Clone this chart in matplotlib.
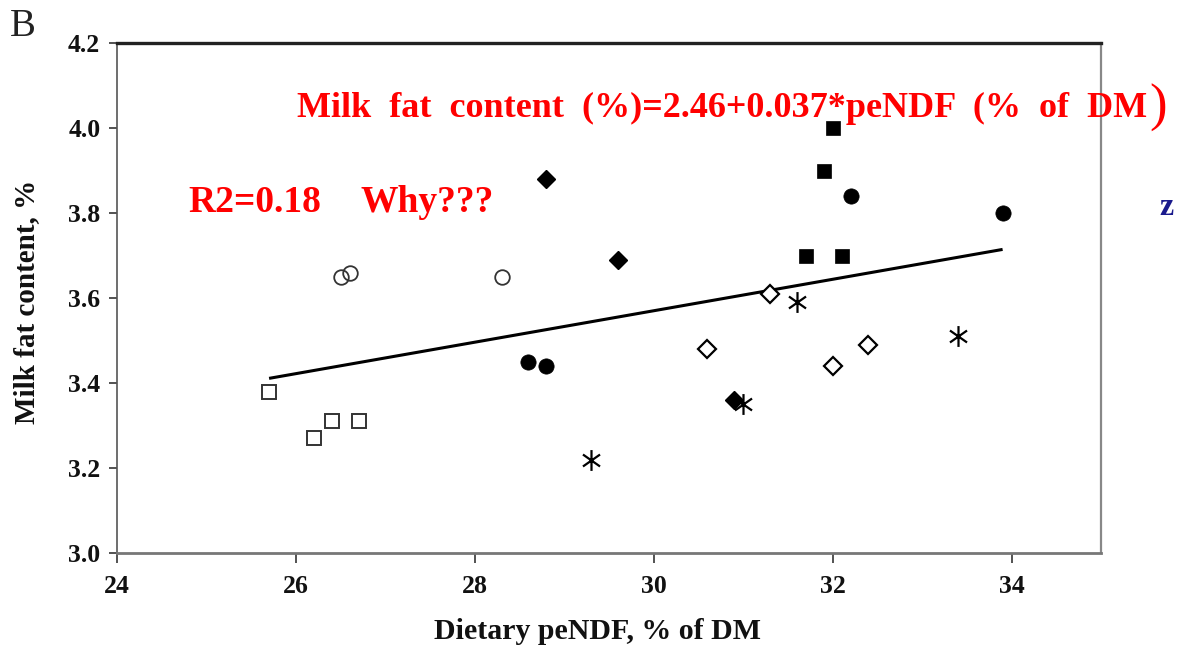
import numpy as np
import matplotlib
matplotlib.use("Agg")
import matplotlib.pyplot as plt
from matplotlib.path import Path

# ---- data: dietary peNDF (% of DM) vs milk fat content (%) ----
open_sq_x = [25.7, 26.2, 26.4, 26.7]
open_sq_y = [3.38, 3.27, 3.31, 3.31]

open_circ_x = [26.5, 26.6, 28.3]
open_circ_y = [3.65, 3.66, 3.65]

fill_circ_x = [28.6, 28.8, 32.2, 33.9]
fill_circ_y = [3.45, 3.44, 3.84, 3.80]

fill_dia_x = [28.8, 29.6, 30.9]
fill_dia_y = [3.88, 3.69, 3.36]

open_dia_x = [30.6, 31.3, 32.0, 32.4]
open_dia_y = [3.48, 3.61, 3.44, 3.49]

fill_sq_x = [31.7, 31.9, 32.0, 32.1]
fill_sq_y = [3.70, 3.90, 4.00, 3.70]

star_x = [29.3, 31.0, 31.6, 33.4]
star_y = [3.22, 3.35, 3.59, 3.51]

# regression: fat = 2.46 + 0.037 * peNDF
intercept = 2.46
slope = 0.037
fit_range = [25.7, 33.9]

x_ticks = [24, 26, 28, 30, 32, 34]
y_ticks = [3.0, 3.2, 3.4, 3.6, 3.8, 4.0, 4.2]

SERIF = ["Liberation Serif", "DejaVu Serif"]

W, H = 1182, 659
fig = plt.figure(figsize=(W / 100, H / 100), dpi=100)
fig.patch.set_facecolor("white")
ax = fig.add_axes([117 / W, 1 - 553 / H, (1101 - 117) / W, (553 - 43) / H])

# six-armed asterisk marker: vertical stroke plus two slanted strokes
ang = np.deg2rad([90, 35, 145])
verts, codes = [], []
for a in ang:
    verts += [(np.cos(a), np.sin(a)), (-np.cos(a), -np.sin(a))]
    codes += [Path.MOVETO, Path.LINETO]
asterisk = Path(verts, codes)

ax.plot(fit_range, [intercept + slope * v for v in fit_range],
        color="black", lw=2.2, solid_capstyle="butt", zorder=2)

ax.plot(open_sq_x, open_sq_y, ls="none", marker="s", ms=10.5, mfc="white",
        mec="#333333", mew=1.4, zorder=3)
ax.plot(open_circ_x, open_circ_y, ls="none", marker="o", ms=10.5, mfc="none",
        mec="#333333", mew=1.3, zorder=3)
ax.plot(fill_circ_x, fill_circ_y, ls="none", marker="o", ms=11, mfc="black",
        mec="black", mew=0.5, zorder=3)
ax.plot(fill_dia_x, fill_dia_y, ls="none", marker="D", ms=9.5, mfc="black",
        mec="black", mew=1.0, zorder=3)
ax.plot(open_dia_x, open_dia_y, ls="none", marker="D", ms=8.8, mfc="white",
        mec="black", mew=1.6, zorder=3)
ax.plot(fill_sq_x, fill_sq_y, ls="none", marker="s", ms=10.5, mfc="black",
        mec="black", mew=0.5, zorder=3)
ax.plot(star_x, star_y, ls="none", marker=asterisk, ms=15, mfc="none",
        mec="black", mew=1.6, zorder=4)

ax.set_xlim(24, 35)
ax.set_ylim(3.0, 4.2)
ax.set_xticks(x_ticks)
ax.set_yticks(y_ticks)
ax.set_xticklabels([str(v) for v in x_ticks])
ax.set_yticklabels([f"{v:.1f}" for v in y_ticks])

for lab in ax.get_xticklabels() + ax.get_yticklabels():
    lab.set_fontfamily(SERIF)
    lab.set_fontweight("bold")
    lab.set_fontsize(18.5)
    lab.set_color("#111111")

ax.tick_params(axis="y", direction="out", length=6, width=1.3, color="#444444", pad=6)
ax.tick_params(axis="x", direction="out", length=7, width=1.3, color="#444444", pad=9)

ax.spines["top"].set_linewidth(2.4)
ax.spines["top"].set_color("#222222")
ax.spines["left"].set_linewidth(1.2)
ax.spines["left"].set_color("#555555")
ax.spines["right"].set_linewidth(1.6)
ax.spines["right"].set_color("#888888")
ax.spines["bottom"].set_linewidth(2.0)
ax.spines["bottom"].set_color("#777777")

ax.set_xlabel("Dietary peNDF, % of DM", fontfamily=SERIF, fontweight="bold",
              fontsize=21.5, color="#111111")
ax.set_ylabel("Milk fat content, %", fontfamily=SERIF, fontweight="bold",
              fontsize=21, color="#111111")
ax.xaxis.set_label_coords((597 - 117) / (1101 - 117), -(639 - 553) / (553 - 43))
ax.yaxis.set_label_coords(-(117 - 27) / (1101 - 117), (553 - 302) / (553 - 43))
ax.xaxis.label.set_va("baseline")
ax.yaxis.label.set_va("center")


def ftext(px, py, s, **kw):
    fig.text(px / W, 1 - py / H, s, **kw)


ftext(10, 36, "B", fontfamily=SERIF, fontsize=28, color="#222222", va="baseline")
ftext(297, 117, "Milk  fat  content  (%)=2.46+0.037*peNDF  (%  of  DM",
      fontfamily=SERIF, fontweight="bold", fontsize=26, color="#ff0000", va="baseline")
ftext(1149, 121, ")", fontfamily=SERIF, fontsize=38, color="#ff0000", va="baseline")
ftext(188, 212, "R2=0.18", fontfamily=SERIF, fontweight="bold", fontsize=27,
      color="#ff0000", va="baseline")
ftext(360, 212, "Why???", fontfamily=SERIF, fontweight="bold", fontsize=27,
      color="#ff0000", va="baseline")
ftext(1159, 215, "z", fontfamily=SERIF, fontweight="bold", fontsize=23,
      color="#1a1a8c", va="baseline")

fig.savefig("out.png", dpi=100)
